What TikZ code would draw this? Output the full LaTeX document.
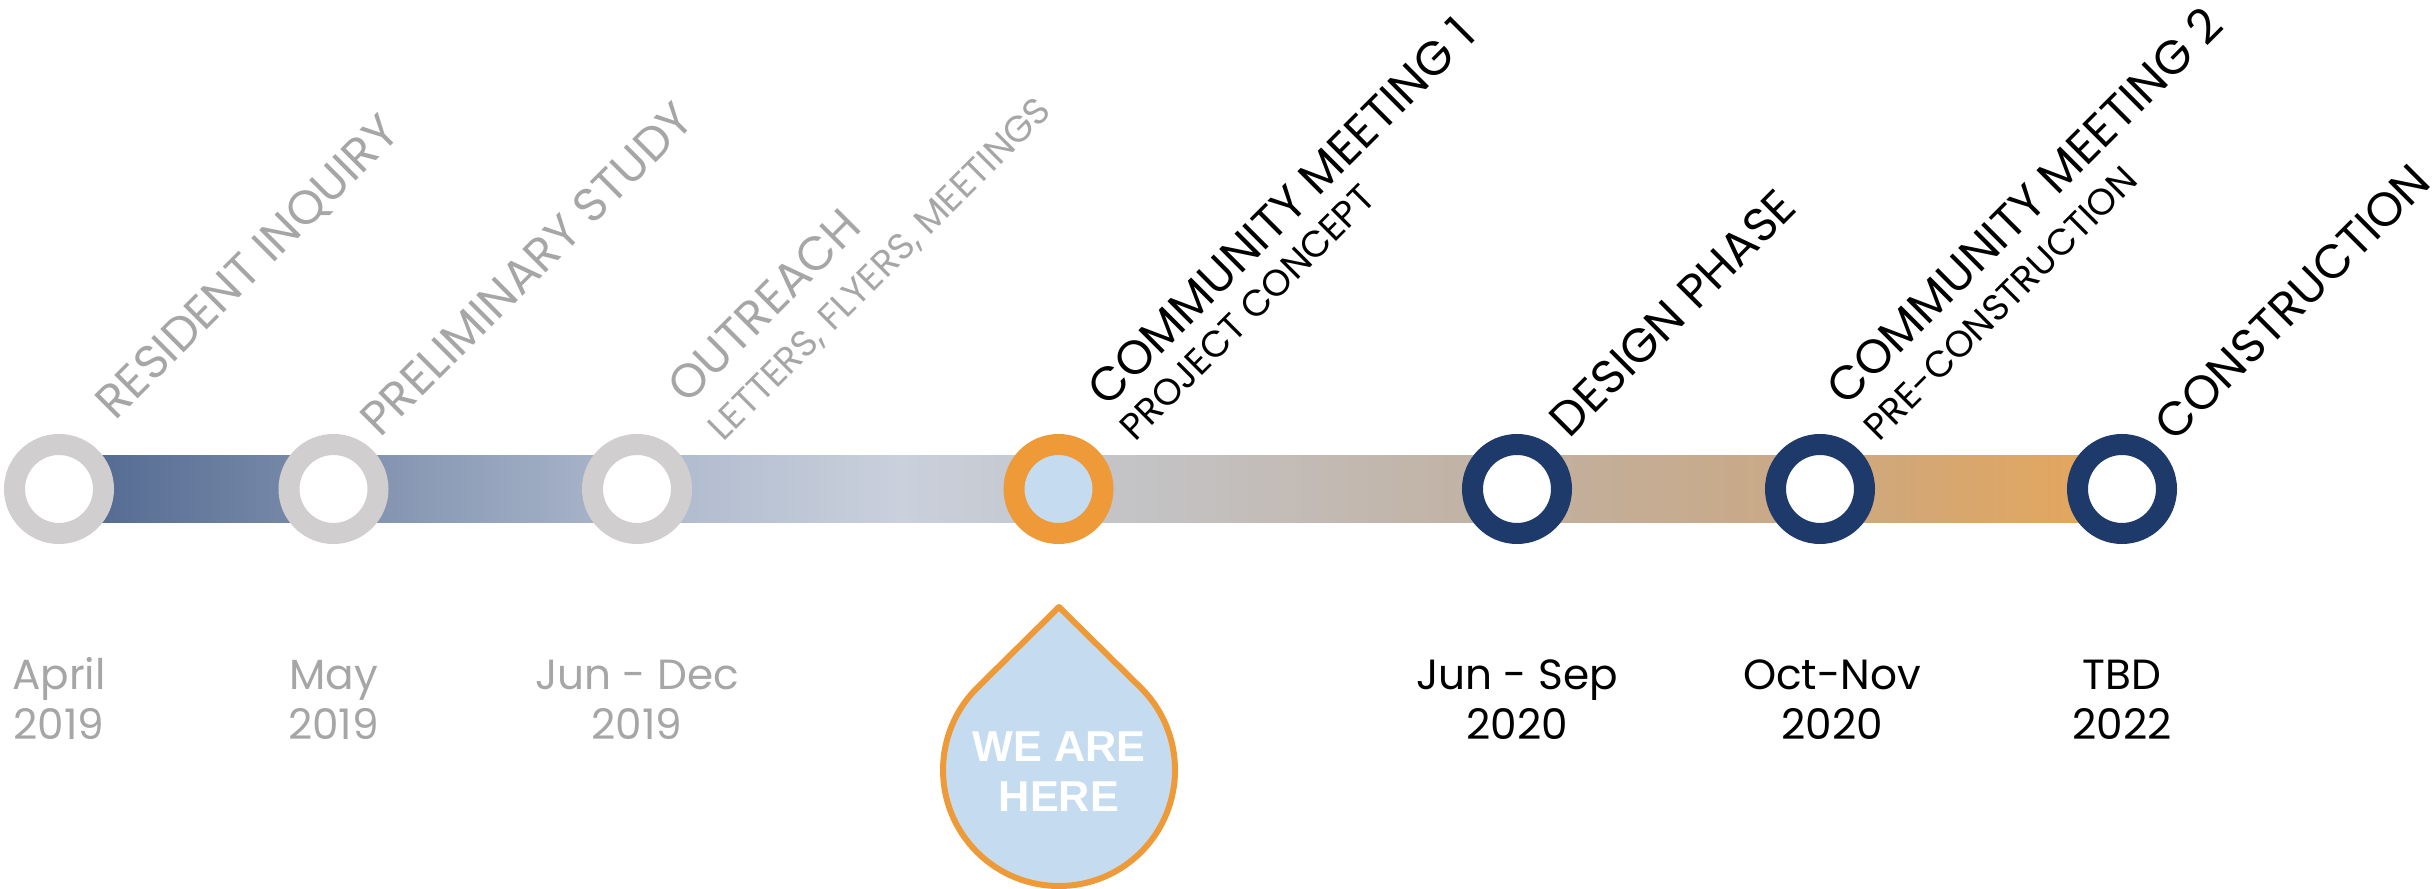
\documentclass[tikz,border=0pt]{standalone}
\usepackage{fontspec}
\setmainfont{Poppins}
\newfontfamily\arialfont{Liberation Sans}
\usepackage{tikz}

\definecolor{ringgray}{RGB}{208,206,207}
\definecolor{ringnavy}{RGB}{29,58,107}
\definecolor{ringorange}{RGB}{238,154,56}
\definecolor{droplight}{RGB}{197,220,240}
\definecolor{pastgray}{RGB}{166,166,166}
\definecolor{barA}{RGB}{78,102,142}
\definecolor{barB}{RGB}{125,142,172}
\definecolor{barC}{RGB}{172,184,204}
\definecolor{barD}{RGB}{202,208,220}
\definecolor{barE}{RGB}{196,199,205}
\definecolor{barF}{RGB}{193,176,160}
\definecolor{barG}{RGB}{203,168,130}
\definecolor{barH}{RGB}{230,166,88}

\tikzset{
  ring/.style={circle, draw=#1, line width=0.21cm, minimum size=0.89cm, inner sep=0pt, fill=white},
  stage/.style={rotate=45, anchor=base west, inner sep=0pt, font=\fontsize{13.5}{16}\selectfont},
  substage/.style={rotate=45, anchor=base west, inner sep=0pt, font=\fontsize{10.5}{12}\selectfont},
  datelbl/.style={align=center, anchor=base, inner sep=0pt, font=\fontsize{12}{14.5}\selectfont}
}

\begin{document}
\begin{tikzpicture}
\useasboundingbox (0,0) rectangle (24.32,8.89);
% Timeline bar
\foreach \xa/\xb/\ca/\cb in {0.59/3.335/barA/barB, 3.335/6.37/barB/barC, 6.37/9.0/barC/barD,
  9.0/10.585/barD/barE, 10.585/15.17/barE/barF, 15.17/18.2/barF/barG, 18.2/21.22/barG/barH}
  \shade[left color=\ca, right color=\cb] (\xa,3.665) rectangle (\xb+0.01,4.335);
% Milestones
\node[ring=ringgray] (m1) at (0.59,4) {};
\node[ring=ringgray] (m2) at (3.335,4) {};
\node[ring=ringgray] (m3) at (6.37,4) {};
\node[ring=ringorange, fill=droplight] (m4) at (10.585,4) {};
\node[ring=ringnavy] (m5) at (15.17,4) {};
\node[ring=ringnavy] (m6) at (18.2,4) {};
\node[ring=ringnavy] (m7) at (21.22,4) {};
% Stage labels
\node[stage, pastgray] (l1) at (1.15,4.67) {RESIDENT INQUIRY};
\node[stage, pastgray] (l2) at (3.80,4.50) {PRELIMINARY STUDY};
\node[stage, pastgray] (l3) at (6.87,4.83) {OUTREACH};
\node[substage, pastgray] (l3b) at (7.23,4.46) {LETTERS, FLYERS, MEETINGS};
\node[stage] (l4) at (11.07,4.80) {COMMUNITY MEETING 1};
\node[substage] (l4b) at (11.35,4.46) {PROJECT CONCEPT};
\node[stage] (l5) at (15.69,4.49) {DESIGN PHASE};
\node[stage] (l6) at (18.46,4.81) {COMMUNITY MEETING 2};
\node[substage] (l6b) at (18.79,4.46) {PRE-CONSTRUCTION};
\node[stage] (l7) at (21.74,4.45) {CONSTRUCTION};
% Dates (anchored on the year line)
\node[datelbl, pastgray] (d1) at (0.59,1.49) {April\\2019};
\node[datelbl, pastgray] (d2) at (3.335,1.49) {May\\2019};
\node[datelbl, pastgray] (d3) at (6.37,1.49) {Jun - Dec\\2019};
\node[datelbl] (d5) at (15.17,1.49) {Jun - Sep\\2020};
\node[datelbl] (d6) at (18.32,1.49) {Oct-Nov\\2020};
\node[datelbl] (d7) at (21.22,1.49) {TBD\\2022};
% We are here
\draw[ringorange, line width=0.06cm, line join=round, fill=droplight]
  (10.59,2.82) -- (9.77,2.01) arc[start angle=135, end angle=405, radius=1.16] -- cycle;
\node[font=\arialfont\bfseries\fontsize{12.3}{14.5}\selectfont, white, align=center, anchor=base]
  (here) at (10.59,0.77) {WE ARE\\HERE};
\end{tikzpicture}
\end{document}
